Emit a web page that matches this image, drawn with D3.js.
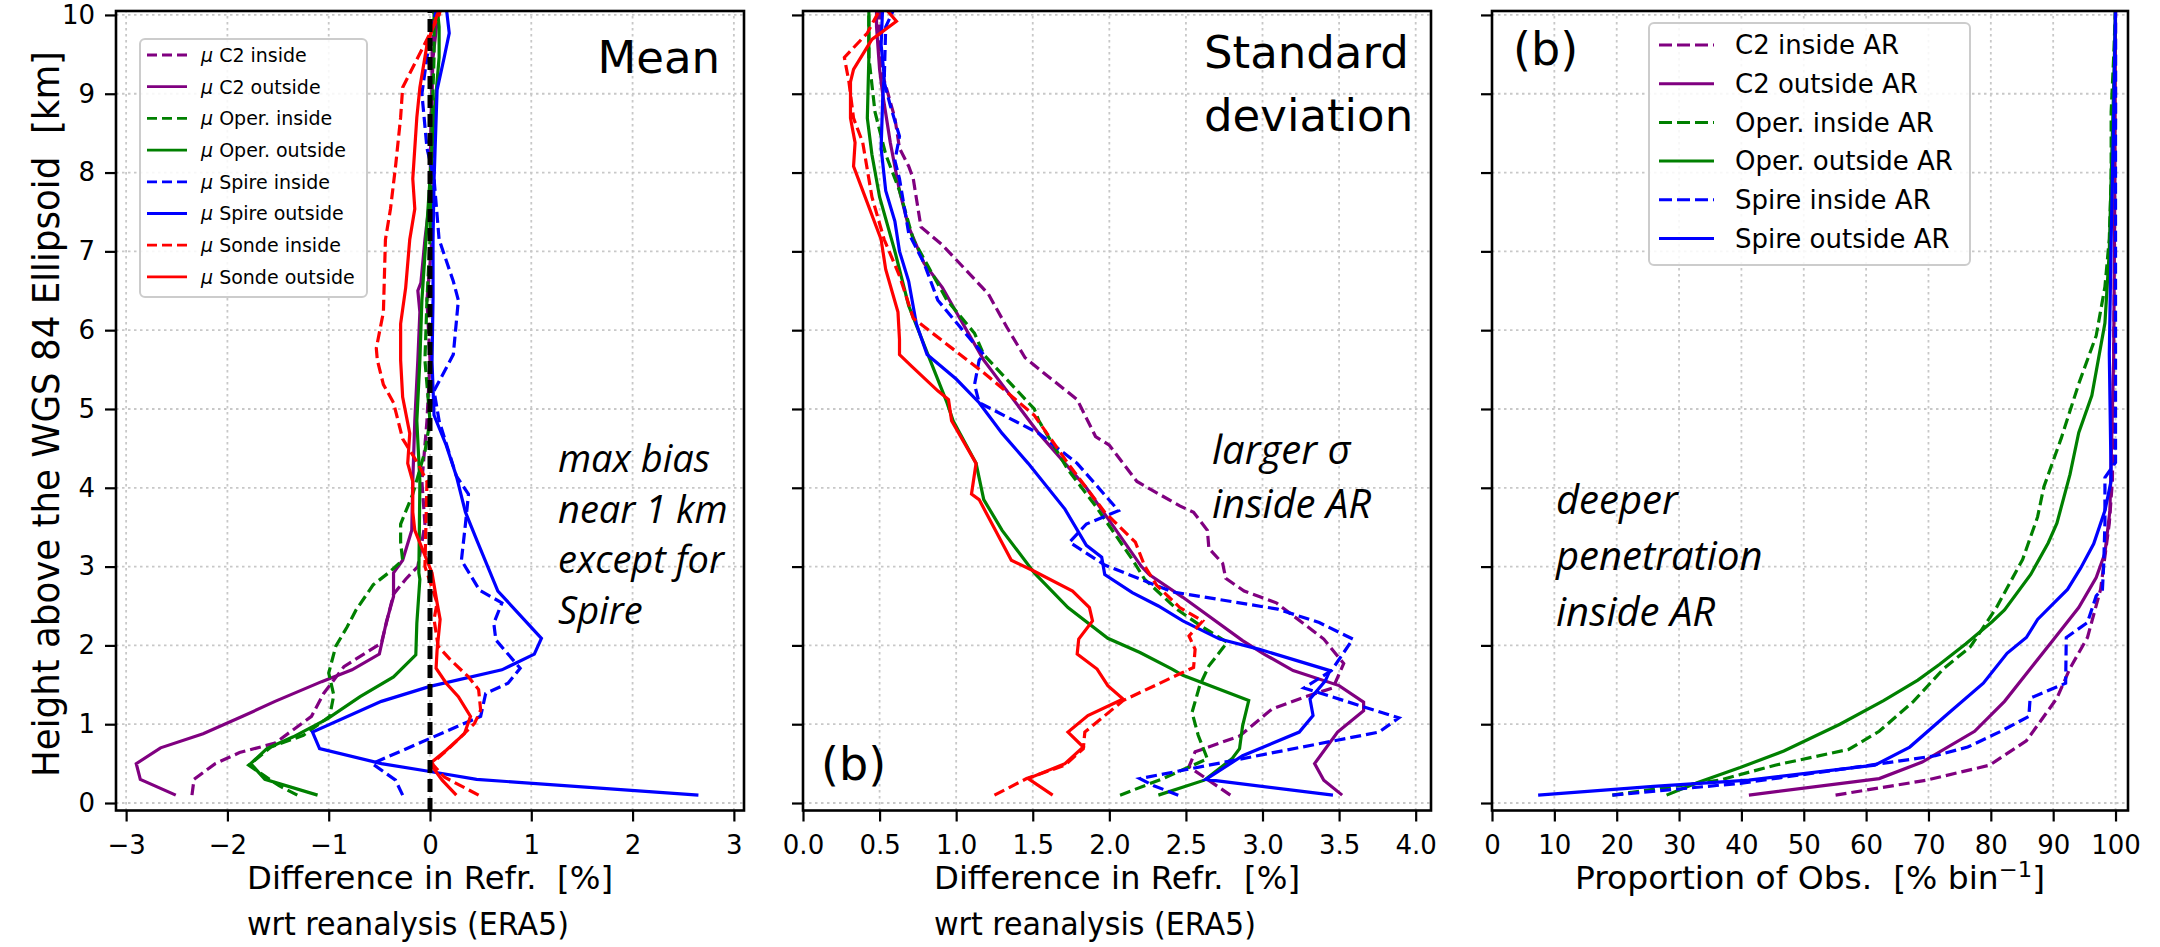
<!DOCTYPE html>
<html><head><meta charset="utf-8">
<script src="https://cdn.jsdelivr.net/npm/d3@7"></script>
<style>body{margin:0;background:#fff;} svg{display:block;font-family:"DejaVu Sans",sans-serif;}</style>
</head><body>
<svg id="chart" width="2160" height="947"></svg>
<script>
// ---------------- DATA ----------------
const heightTicks = [0,1,2,3,4,5,6,7,8,9,10];
const meanTicks = [-3,-2,-1,0,1,2,3];
const sdTicks = [0,0.5,1,1.5,2,2.5,3,3.5,4];
const obsTicks = [0,10,20,30,40,50,60,70,80,90,100];

// Panel 1: mean difference [%] vs height [km]  ([x, km])
const meanC2In = [[-2.35,0.1],[-2.33,0.3],[-2.12,0.5],[-1.88,0.64],[-1.53,0.76],[-1.17,1.1],[-1.05,1.39],[-0.85,1.73],[-0.48,2.03],[-0.36,2.65],[-0.24,2.84],[-0.12,3.0],[-0.05,3.54],[-0.08,4.08],[-0.03,4.85],[0.0,5.62],[-0.03,6.38],[0.02,7.15],[0.04,7.92],[0.02,8.7],[0.02,9.46],[0.04,10.1]];
const meanC2Out = [[-2.51,0.1],[-2.86,0.3],[-2.9,0.5],[-2.66,0.7],[-2.24,0.88],[-1.85,1.1],[-1.53,1.29],[-1.07,1.54],[-0.77,1.69],[-0.5,1.89],[-0.43,2.3],[-0.36,2.62],[-0.36,2.92],[-0.27,3.08],[-0.18,3.46],[-0.17,4.08],[-0.15,4.85],[-0.12,5.62],[-0.1,6.23],[-0.12,6.5],[-0.09,6.6],[-0.05,7.15],[0.0,7.69],[0.01,8.7],[0.03,9.46],[0.07,9.92],[0.09,10.1]];
const meanOperIn = [[-1.31,0.1],[-1.49,0.22],[-1.79,0.48],[-1.57,0.71],[-1.25,0.86],[-0.99,1.1],[-0.95,1.37],[-1.0,1.65],[-0.93,1.99],[-0.82,2.23],[-0.73,2.45],[-0.56,2.77],[-0.41,2.92],[-0.27,3.08],[-0.29,3.31],[-0.29,3.54],[-0.17,3.92],[-0.05,4.46],[0.0,4.85],[-0.03,5.31],[-0.05,5.62],[-0.03,6.38],[0.0,7.15],[0.02,7.92],[0.02,8.7],[0.04,9.46],[0.04,10.1]];
const meanOperOut = [[-1.11,0.1],[-1.63,0.3],[-1.77,0.5],[-1.61,0.69],[-1.35,0.84],[-1.01,1.07],[-0.69,1.35],[-0.36,1.6],[-0.14,1.88],[-0.13,2.28],[-0.1,2.84],[-0.11,2.92],[-0.1,4.08],[-0.13,4.85],[-0.1,5.62],[-0.08,6.38],[-0.04,7.15],[0.0,7.92],[0.04,8.7],[0.09,9.46],[0.09,9.85],[0.07,10.1]];
const meanSpireIn = [[-0.27,0.1],[-0.34,0.29],[-0.57,0.5],[0.5,1.1],[0.55,1.39],[0.77,1.52],[0.89,1.71],[0.83,1.8],[0.65,2.07],[0.63,2.28],[0.71,2.54],[0.49,2.7],[0.31,3.08],[0.35,3.54],[0.38,3.92],[0.26,4.15],[0.09,4.85],[0.04,5.23],[0.23,5.69],[0.28,6.38],[0.23,6.62],[0.09,7.15],[0.04,7.92],[-0.03,8.31],[-0.08,9.0],[-0.03,9.46],[0.02,9.85],[0.07,10.1]];
const meanSpireOut = [[2.65,0.1],[0.46,0.3],[0.0,0.4],[-0.48,0.5],[-1.09,0.69],[-1.16,0.9],[-0.48,1.29],[0.0,1.48],[0.71,1.69],[1.03,1.89],[1.1,2.09],[0.67,2.69],[0.47,3.31],[0.35,3.69],[0.26,4.15],[0.16,4.54],[0.04,4.92],[0.02,5.6],[0.03,6.4],[0.03,7.15],[0.04,7.9],[0.07,9.05],[0.14,9.46],[0.19,9.77],[0.16,10.1]];
const meanSondeIn = [[0.48,0.1],[0.14,0.33],[0.02,0.5],[0.2,0.71],[0.44,1.01],[0.5,1.18],[0.48,1.44],[0.38,1.6],[0.2,1.82],[0.08,1.99],[0.04,2.33],[0.07,2.54],[-0.05,3.0],[-0.03,4.08],[-0.12,4.31],[-0.27,4.62],[-0.36,5.08],[-0.46,5.31],[-0.52,5.62],[-0.53,5.77],[-0.46,6.23],[-0.44,7.15],[-0.39,7.54],[-0.34,8.08],[-0.29,8.7],[-0.27,9.08],[-0.12,9.46],[-0.03,9.69],[0.09,10.0],[0.11,10.1]];
const meanSondeOut = [[0.26,0.1],[0.12,0.29],[0.0,0.5],[0.16,0.67],[0.34,0.88],[0.4,1.1],[0.28,1.35],[0.16,1.52],[0.06,1.71],[0.07,1.94],[0.1,2.33],[0.07,2.54],[0.02,2.92],[-0.15,3.46],[-0.17,3.69],[-0.17,4.08],[-0.22,4.31],[-0.2,4.69],[-0.27,5.15],[-0.29,5.62],[-0.29,6.08],[-0.24,6.54],[-0.2,7.15],[-0.15,7.54],[-0.17,7.92],[-0.13,8.7],[-0.1,9.08],[-0.03,9.62],[0.07,10.0],[0.11,10.1]];

// Panel 2: standard deviation [%] vs height [km]
const sdC2In = [[2.79,0.1],[2.52,0.46],[2.56,0.65],[2.85,0.85],[3.06,1.19],[3.28,1.35],[3.46,1.46],[3.53,1.77],[3.4,2.08],[3.09,2.54],[2.88,2.69],[2.76,2.85],[2.74,3.04],[2.65,3.23],[2.64,3.46],[2.55,3.69],[2.46,3.77],[2.18,4.08],[2.0,4.54],[1.91,4.65],[1.79,5.12],[1.57,5.46],[1.45,5.65],[1.33,6.04],[1.21,6.46],[1.06,6.77],[0.91,7.08],[0.77,7.31],[0.72,7.92],[0.69,8.08],[0.63,8.31],[0.6,8.69],[0.51,9.31],[0.5,9.77],[0.5,10.1]];
const sdC2Out = [[3.52,0.1],[3.4,0.29],[3.34,0.5],[3.49,0.9],[3.66,1.17],[3.66,1.28],[3.5,1.49],[3.2,1.68],[3.01,1.89],[2.87,2.06],[2.48,2.61],[2.26,2.9],[2.21,3.0],[2.03,3.5],[1.85,4.0],[1.54,4.69],[1.18,5.62],[1.0,6.23],[0.91,6.54],[0.79,6.85],[0.69,7.31],[0.63,7.77],[0.57,8.38],[0.52,9.0],[0.5,9.31],[0.48,9.85],[0.48,10.1]];
const sdOperIn = [[2.07,0.1],[2.35,0.31],[2.64,0.56],[2.58,0.86],[2.54,1.15],[2.59,1.49],[2.65,1.74],[2.77,2.04],[2.61,2.23],[2.44,2.46],[2.23,2.84],[2.15,3.09],[1.91,3.77],[1.73,4.23],[1.54,4.85],[1.51,5.0],[1.18,5.69],[1.12,5.96],[0.94,6.38],[0.72,7.15],[0.63,7.77],[0.54,8.23],[0.47,8.77],[0.43,9.46],[0.43,10.1]];
const sdOperOut = [[2.32,0.1],[2.62,0.29],[2.8,0.56],[2.85,0.69],[2.87,0.98],[2.91,1.3],[2.48,1.62],[2.41,1.7],[2.2,1.91],[1.99,2.09],[1.73,2.48],[1.51,2.92],[1.3,3.46],[1.18,3.85],[1.13,4.31],[0.98,4.85],[0.94,5.08],[0.83,5.62],[0.69,6.31],[0.6,7.0],[0.5,7.69],[0.45,8.23],[0.42,8.69],[0.43,9.46],[0.43,10.1]];
const sdSpireIn = [[2.45,0.1],[2.29,0.22],[2.2,0.31],[3.76,0.9],[3.89,1.08],[3.27,1.46],[3.45,1.68],[3.59,2.08],[3.37,2.29],[3.1,2.46],[2.41,2.68],[1.97,3.02],[1.74,3.31],[1.85,3.54],[2.06,3.71],[1.79,4.31],[1.54,4.69],[1.15,5.08],[1.12,5.31],[1.15,5.62],[1.18,5.69],[1.06,5.96],[0.88,6.38],[0.79,6.85],[0.69,7.23],[0.63,7.92],[0.6,8.15],[0.63,8.46],[0.57,8.85],[0.53,9.15],[0.54,9.85],[0.6,10.1]];
const sdSpireOut = [[3.46,0.1],[2.63,0.3],[2.87,0.6],[3.24,0.9],[3.33,1.11],[3.31,1.32],[3.41,1.55],[3.44,1.68],[2.98,1.95],[2.72,2.08],[2.48,2.31],[2.32,2.5],[2.15,2.67],[1.97,2.9],[1.95,3.12],[1.85,3.27],[1.71,3.73],[1.47,4.31],[1.3,4.69],[1.15,5.08],[1.0,5.38],[0.81,5.69],[0.74,6.08],[0.69,6.62],[0.63,7.0],[0.6,7.38],[0.54,7.77],[0.51,8.31],[0.52,8.92],[0.53,9.23],[0.51,9.62],[0.52,10.1]];
const sdSondeIn = [[1.25,0.1],[1.46,0.31],[1.71,0.48],[1.83,0.69],[1.84,0.9],[2.09,1.3],[2.46,1.64],[2.55,1.72],[2.56,1.95],[2.52,2.12],[2.61,2.31],[2.46,2.48],[2.31,2.76],[2.23,3.01],[2.17,3.31],[1.97,3.69],[1.73,4.31],[1.51,4.92],[1.18,5.46],[0.72,6.15],[0.63,6.69],[0.53,7.15],[0.45,7.69],[0.39,8.38],[0.33,8.69],[0.3,9.15],[0.27,9.46],[0.42,9.77],[0.51,10.1]];
const sdSondeOut = [[1.63,0.1],[1.47,0.31],[1.71,0.5],[1.83,0.71],[1.73,0.9],[1.86,1.11],[2.09,1.32],[1.99,1.49],[1.92,1.7],[1.79,1.89],[1.8,2.08],[1.89,2.31],[1.87,2.48],[1.76,2.69],[1.5,2.95],[1.36,3.08],[1.15,3.85],[1.1,3.92],[1.13,4.31],[0.97,4.85],[0.95,5.12],[0.88,5.23],[0.71,5.54],[0.63,5.69],[0.63,5.88],[0.62,6.23],[0.54,6.77],[0.51,7.15],[0.39,7.77],[0.33,8.08],[0.34,8.38],[0.31,8.69],[0.31,9.15],[0.33,9.31],[0.45,9.69],[0.61,9.92],[0.53,10.1]];

// Panel 3: proportion of observations [% per bin] vs height [km]
const obsC2In = [[55.1,0.1],[69.7,0.29],[79.8,0.48],[85.7,0.79],[87.8,1.02],[90.6,1.33],[92.7,1.71],[95.5,2.1],[97.6,2.71],[99.0,3.55],[99.5,4.09],[99.8,6.4],[100,8.7],[100,10.1]];
const obsC2Out = [[41.2,0.1],[62.1,0.31],[69.0,0.52],[77.4,0.91],[82.2,1.29],[86.4,1.71],[89.9,2.06],[94.1,2.48],[96.9,2.86],[98.3,3.17],[99.1,3.71],[99.7,5.63],[99.9,7.93],[100,10.1]];
const obsOperIn = [[19.3,0.1],[36.5,0.29],[45.4,0.48],[57.2,0.68],[62.1,0.91],[67.6,1.29],[72.5,1.71],[76.7,1.98],[80.9,2.48],[85.1,3.09],[87.5,3.63],[88.5,4.01],[91.3,4.63],[94.1,5.32],[96.9,5.93],[98.3,6.55],[99.0,7.16],[99.3,7.93],[99.3,8.77],[99.7,9.46],[100,10.1]];
const obsOperOut = [[28.0,0.1],[33.0,0.26],[39.8,0.45],[46.8,0.66],[55.8,1.0],[62.8,1.3],[68.3,1.56],[71.8,1.76],[76.0,2.02],[80.2,2.3],[82.2,2.45],[86.4,2.9],[89.2,3.3],[90.6,3.55],[92.7,4.17],[94.1,4.7],[96.2,5.17],[98.3,6.09],[99.0,7.0],[99.3,7.93],[99.7,9.08],[100,10.1]];
const obsSpireIn = [[19.3,0.1],[39.8,0.25],[60.7,0.48],[71.1,0.6],[76.3,0.71],[81.6,0.91],[86.1,1.1],[86.3,1.33],[92.0,1.52],[92.1,2.1],[95.5,2.29],[96.9,2.63],[97.9,2.71],[98.1,3.02],[98.3,3.55],[98.3,4.13],[100,4.32],[100,5.63],[100,10.1]];
const obsSpireOut = [[7.4,0.1],[25.9,0.21],[41.2,0.29],[61.4,0.48],[67.0,0.71],[73.2,1.14],[78.8,1.52],[82.6,1.9],[85.7,2.1],[87.5,2.33],[89.9,2.52],[92.3,2.71],[94.4,2.98],[96.5,3.29],[98.3,3.71],[99.3,4.09],[99.0,5.7],[99.3,7.16],[99.7,8.7],[100,10.1]];

const meanLegend = ["C2 inside","C2 outside","Oper. inside","Oper. outside","Spire inside","Spire outside","Sonde inside","Sonde outside"];
const obsLegend = ["C2 inside AR","C2 outside AR","Oper. inside AR","Oper. outside AR","Spire inside AR","Spire outside AR"];

// ---------------- STYLE ----------------
const COL = {c2:"#800080", oper:"#008000", spire:"#0000ff", sonde:"#ff0000"};
const DASH = "11,5";
const NB = "\u00a0";
const svg = d3.select("#chart");
const yRange = [810.5, 11];
const yDomain = [-0.095, 10.05];

function panel(id, xDomain, xRange, xTicks, xFmt, showYLabels, series) {
  const x = d3.scaleLinear().domain(xDomain).range(xRange);
  const y = d3.scaleLinear().domain(yDomain).range(yRange);
  const g = svg.append("g");
  g.append("clipPath").attr("id", "clip"+id).append("rect")
    .attr("x", xRange[0]).attr("y", yRange[1]).attr("width", xRange[1]-xRange[0]).attr("height", yRange[0]-yRange[1]);
  const grid = g.append("g").attr("stroke", "#c8c8c8").attr("stroke-width", 1.8).attr("stroke-dasharray", "2.5,3.5");
  xTicks.forEach(t => grid.append("line").attr("x1", x(t)).attr("x2", x(t)).attr("y1", yRange[0]).attr("y2", yRange[1]));
  heightTicks.forEach(t => grid.append("line").attr("y1", y(t)).attr("y2", y(t)).attr("x1", xRange[0]).attr("x2", xRange[1]));
  const line = d3.line().x(d => x(d[0])).y(d => y(d[1]));
  const dg = g.append("g").attr("clip-path", "url(#clip"+id+")");
  series.forEach(s => {
    dg.append("path").attr("d", line(s.data)).attr("fill", "none").attr("stroke", s.color)
      .attr("stroke-width", 3.2).attr("stroke-dasharray", s.dash ? DASH : null);
  });
  const ax = g.append("g").attr("transform", `translate(0,${yRange[0]})`)
    .call(d3.axisBottom(x).tickValues(xTicks).tickFormat(xFmt).tickSize(11).tickPadding(14));
  const ay = g.append("g").attr("transform", `translate(${xRange[0]},0)`)
    .call(d3.axisLeft(y).tickValues(heightTicks).tickFormat(showYLabels ? d3.format("d") : () => "").tickSize(11).tickPadding(10));
  [ax, ay].forEach(a => {
    a.select(".domain").remove();
    a.selectAll(".tick line").attr("stroke", "#000").attr("stroke-width", 2.2);
    a.selectAll(".tick text").attr("font-family", "DejaVu Sans").attr("font-size", 26).attr("fill", "#000");
  });
  g.append("rect").attr("x", xRange[0]).attr("y", yRange[1]).attr("width", xRange[1]-xRange[0]).attr("height", yRange[0]-yRange[1])
    .attr("fill", "none").attr("stroke", "#000").attr("stroke-width", 2.6);
  return {g, x, y, dg};
}

const minusFmt = d => (d < 0 ? "\u2212" + Math.abs(d) : String(d));

// ---------- Panel 1: Mean ----------
const p1 = panel(1, [-3.1, 3.1], [116, 744], meanTicks, minusFmt, true, [
  {data: meanC2In, color: COL.c2, dash: true}, {data: meanC2Out, color: COL.c2},
  {data: meanOperIn, color: COL.oper, dash: true}, {data: meanOperOut, color: COL.oper},
  {data: meanSpireIn, color: COL.spire, dash: true}, {data: meanSpireOut, color: COL.spire},
  {data: meanSondeIn, color: COL.sonde, dash: true}, {data: meanSondeOut, color: COL.sonde}
]);
p1.dg.append("line").attr("x1", p1.x(0)).attr("x2", p1.x(0)).attr("y1", p1.y(-0.1)).attr("y2", p1.y(10.05))
  .attr("stroke", "#000").attr("stroke-width", 5).attr("stroke-dasharray", "13,6");

// ---------- Panel 2: Standard deviation ----------
const p2 = panel(2, [0, 4.1], [803, 1431], sdTicks, d3.format(".1f"), false, [
  {data: sdC2In, color: COL.c2, dash: true}, {data: sdC2Out, color: COL.c2},
  {data: sdOperIn, color: COL.oper, dash: true}, {data: sdOperOut, color: COL.oper},
  {data: sdSpireIn, color: COL.spire, dash: true}, {data: sdSpireOut, color: COL.spire},
  {data: sdSondeIn, color: COL.sonde, dash: true}, {data: sdSondeOut, color: COL.sonde}
]);

// ---------- Panel 3: Proportion of observations ----------
const p3 = panel(3, [0, 102], [1492, 2128], obsTicks, d3.format("d"), false, [
  {data: obsC2In, color: COL.c2, dash: true}, {data: obsC2Out, color: COL.c2},
  {data: obsOperIn, color: COL.oper, dash: true}, {data: obsOperOut, color: COL.oper},
  {data: obsSpireIn, color: COL.spire, dash: true}, {data: obsSpireOut, color: COL.spire}
]);

// ---------- Legends ----------
const legColors = [COL.c2, COL.c2, COL.oper, COL.oper, COL.spire, COL.spire, COL.sonde, COL.sonde];
function legend(labels, box, lx1, lx2, tx, y0, dy, fs, lw, dash, mu) {
  const lg = svg.append("g");
  lg.append("rect").attr("x", box[0]).attr("y", box[1]).attr("width", box[2]).attr("height", box[3]).attr("rx", 5)
    .attr("fill", "#fff").attr("fill-opacity", 0.85).attr("stroke", "#cccccc").attr("stroke-width", 2);
  labels.forEach((lab, i) => {
    const yy = y0 + i * dy;
    lg.append("line").attr("x1", lx1).attr("x2", lx2).attr("y1", yy).attr("y2", yy)
      .attr("stroke", legColors[i]).attr("stroke-width", lw).attr("stroke-dasharray", i % 2 === 0 ? dash : null);
    const t = lg.append("text").attr("x", tx).attr("y", yy).attr("dy", "0.36em").attr("font-size", fs).attr("fill", "#000");
    if (mu) { t.append("tspan").attr("font-style", "italic").text("\u03bc"); t.append("tspan").text(" " + lab); }
    else t.text(lab);
  });
}
legend(meanLegend, [140, 39, 227, 258], 147, 187, 201, 55, 31.7, 19, 2.8, "10,5", true);
legend(obsLegend, [1649, 23, 321, 242], 1659, 1714, 1735, 45, 38.7, 26, 3, "13,5", false);

// ---------- Annotations ----------
function txt(x, y, s, opt) {
  return svg.append("text").attr("x", x).attr("y", y).attr("fill", "#000")
    .attr("font-family", opt.family || "DejaVu Sans").attr("font-size", opt.size)
    .attr("font-style", opt.style || null).attr("text-anchor", opt.anchor || "start").text(s);
}
txt(720, 73, "Mean", {size: 45, anchor: "end"});
txt(1204, 68, "Standard", {size: 45});
txt(1204, 131, "deviation", {size: 45});
txt(821, 780, "(b)", {size: 46});
txt(1513, 65, "(b)", {size: 46});
const it = {size: 38, style: "italic", family: "Open Sans"};
["max bias", "near 1 km", "except for", "Spire"].forEach((s, i) => txt(558, 472 + i * 50.5, s, it));
["larger \u03c3", "inside AR"].forEach((s, i) => txt(1212, 464 + i * 54, s, {size: 40, style: "italic", family: "Open Sans"}));
["deeper", "penetration", "inside AR"].forEach((s, i) => txt(1556, 514 + i * 56, s, {size: 40, style: "italic", family: "Open Sans"}));

// ---------- Axis labels ----------
function xlabel(cx, lines, widths) {
  const w = widths[0];
  lines.forEach((s, i) => {
    const t = svg.append("text").attr("x", cx - w / 2).attr("y", 889 + i * 46).attr("font-size", 32).attr("fill", "#000");
    if (typeof s === "string") t.text(s); else s(t);
    if (widths[i]) t.attr("textLength", widths[i]).attr("lengthAdjust", "spacingAndGlyphs");
  });
}
const refrLabel = ["Difference in Refr." + NB + NB + "[%]", "wrt reanalysis (ERA5)"];
xlabel(430, refrLabel, [366, 322]);
xlabel(1117, refrLabel, [366, 322]);
xlabel(1810, [t => {
  t.append("tspan").text("Proportion of Obs." + NB + NB + "[% bin");
  t.append("tspan").attr("font-size", 22).attr("dy", -12).text("\u22121");
  t.append("tspan").attr("dy", 12).text("]");
}], [470]);
svg.append("text").attr("transform", "translate(59,414) rotate(-90)").attr("text-anchor", "middle")
  .attr("font-size", 38).attr("fill", "#000").attr("textLength", 726).attr("lengthAdjust", "spacingAndGlyphs")
  .text("Height above the WGS 84 Ellipsoid" + NB + NB + "[km]");
</script>
</body></html>
